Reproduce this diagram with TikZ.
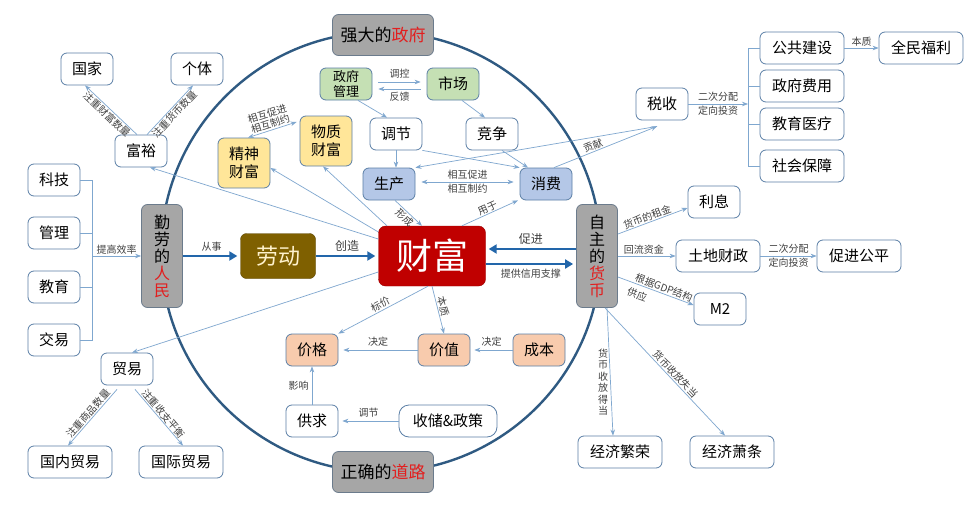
\documentclass[tikz,border=0pt]{standalone}
\usepackage{fontspec}
\setmainfont{Noto Sans CJK SC}
\usetikzlibrary{arrows.meta}
\definecolor{bdr}{HTML}{5B7FA6}
\definecolor{lnc}{HTML}{7FA7CF}
\definecolor{ringc}{HTML}{2F5A82}
\definecolor{thk}{HTML}{2266AA}
\definecolor{hubf}{HTML}{A6A6A6}
\definecolor{hubd}{HTML}{6B7B8C}
\definecolor{grnf}{HTML}{C5E0B4}
\definecolor{ylwf}{HTML}{FFE699}
\definecolor{bluf}{HTML}{B4C7E7}
\definecolor{orgf}{HTML}{F8CBAD}
\definecolor{brnf}{HTML}{7F6000}
\definecolor{brnt}{HTML}{FFF2CC}
\definecolor{redf}{HTML}{C00000}
\definecolor{redt}{HTML}{E21E1E}
\definecolor{labt}{HTML}{404040}
\tikzset{
  box/.style={draw=bdr, line width=0.8pt, rounded corners=6pt, fill=white, minimum width=52pt, minimum height=32pt, inner sep=2pt, align=center, font=\fontsize{15}{17}\selectfont},
  wbox/.style={box, minimum width=84pt},
  two/.style={inner sep=1pt, font=\fontsize{13}{14.5}\selectfont},
  grn/.style={box, fill=grnf},
  ylw/.style={box, fill=ylwf, minimum height=50pt, font=\fontsize{15}{18}\selectfont},
  blu/.style={box, fill=bluf},
  org/.style={box, fill=orgf},
  hub/.style={draw=hubd, line width=0.8pt, rounded corners=6pt, fill=hubf, align=center, inner sep=2pt},
  vhub/.style={hub, minimum width=41pt, minimum height=103pt, font=\fontsize{16}{17}\selectfont},
  hhub/.style={hub, minimum width=101pt, minimum height=41pt, font=\fontsize{17}{19}\selectfont},
  ring/.style={draw=ringc, line width=2.4pt},
  ln/.style={draw=lnc, line width=0.7pt, ->},
  bare/.style={draw=lnc, line width=0.7pt},
  sgap/.style={shorten <=6pt, shorten >=6pt},
  fat/.style={draw=thk, line width=2.6pt, -{Triangle[length=8pt,width=9pt]}, shorten >=3pt},
  lab/.style={font=\fontsize{10}{11}\selectfont, text=labt, inner sep=1pt},
  flab/.style={font=\fontsize{12}{14}\selectfont, text=labt, inner sep=3pt},
  vlab/.style={lab, align=center, font=\fontsize{10}{11.5}\selectfont}
}
\begin{document}
\begin{tikzpicture}[x=1pt, y=-1pt, >={Stealth[length=6pt,width=4.5pt]}]
\fill[white] (0,0) rectangle (980,514);
\useasboundingbox (0,0) rectangle (980,514);
\draw[ring] (381,252) circle[radius=220];

\node[box] (guojia) at (87,69) {国家};
\node[box] (geti) at (197,69) {个体};
\node[box] (fuyu) at (141,151) {富裕};
\node[box] (keji) at (54,180) {科技};
\node[box] (guanli) at (54,233) {管理};
\node[box] (jiaoyu) at (54,287) {教育};
\node[box] (jiaoyi) at (54,340) {交易};
\node[vhub] (renmin) at (162,256) {勤\\劳\\的\\\textcolor{redt}{人}\\\textcolor{redt}{民}};
\node[draw=brnf!70!black, fill=brnf, text=brnt, rounded corners=6pt, minimum width=75pt, minimum height=45pt, font=\fontsize{22}{24}\selectfont] (laodong) at (278,256) {劳动};
\node[draw=redf!80!black, fill=redf, text=white, rounded corners=7pt, minimum width=107pt, minimum height=60pt, font=\fontsize{36}{38}\selectfont] (caifu) at (432,256) {财富};
\node[vhub] (huobi) at (597,256) {自\\主\\的\\\textcolor{redt}{货}\\\textcolor{redt}{币}};
\node[hhub] (zhengfu) at (383,35) {强大的\textcolor{redt}{政府}};
\node[hhub] (daolu) at (383,472) {正确的\textcolor{redt}{道路}};

\node[grn, two] (zfgl) at (346,84) {政府\\管理};
\node[grn] (shichang) at (453,84) {市场};
\node[box] (tiaojie) at (396,134) {调节};
\node[box] (jingzheng) at (492,134) {竞争};
\node[ylw] (jingshen) at (244,163) {精神\\财富};
\node[ylw] (wuzhi) at (326,141) {物质\\财富};
\node[blu] (shengchan) at (389,184) {生产};
\node[blu] (xiaofei) at (546,184) {消费};

\node[box] (shuishou) at (662,104) {税收};
\node[wbox] (ggjs) at (802,48) {公共建设};
\node[wbox] (zffy) at (802,86) {政府费用};
\node[wbox] (jyyl) at (802,124) {教育医疗};
\node[wbox] (shbz) at (802,166) {社会保障};
\node[wbox] (qmfl) at (921,48) {全民福利};
\node[box] (lixi) at (714,202) {利息};
\node[wbox] (tdcz) at (718,256) {土地财政};
\node[wbox] (cjgp) at (859,256) {促进公平};
\node[box] (mtwo) at (720,309) {M2};
\node[wbox] (fanrong) at (620,452) {经济繁荣};
\node[wbox] (xiaotiao) at (732,452) {经济萧条};

\node[box] (maoyi) at (127,369) {贸易};
\node[wbox] (gnmy) at (70,462) {国内贸易};
\node[wbox] (gjmy) at (181,462) {国际贸易};
\node[org] (jiage) at (312,350) {价格};
\node[org] (jiazhi) at (444,350) {价值};
\node[org] (chengben) at (539,350) {成本};
\node[box] (gongqiu) at (312,421) {供求};
\node[box, minimum width=98pt, rounded corners=10pt] (shouchu) at (448,421) {收储\&政策};

\coordinate (lbr) at (92,256);
\foreach \n in {keji,guanli,jiaoyu,jiaoyi} \draw[bare] (\n.east) -| (lbr);
\draw[ln] (lbr) -- (renmin.west) node[lab, midway, above] {提高效率};
\draw[fat] (renmin.east) -- (laodong.west) node[lab, midway, above=2pt] {从事};
\draw[fat] (laodong.east) -- (caifu.west) node[flab, midway, above] {创造};
\draw[fat] ([yshift=7pt]huobi.west) -- ([yshift=7pt]caifu.east) node[flab, midway, above] {促进};
\draw[fat] ([yshift=-8pt]caifu.east) -- ([yshift=-8pt]huobi.west) node[lab, midway, below=3pt] {提供信用支撑};

\draw[ln, <-] ([xshift=-2pt]guojia.south) -- ([xshift=-4pt]fuyu.north) node[lab, midway, sloped, below] {注重财富数量};
\draw[ln] ([xshift=6pt]fuyu.north) -- ([xshift=-4pt]geti.south) node[lab, midway, sloped, below] {注重货币数量};
\draw[ln] ([yshift=17pt]caifu.west) -- ([xshift=9pt]fuyu.south);
\draw[ln] ([yshift=24pt]caifu.west) -- ([yshift=-5pt]jingshen.east);
\draw[ln] ([xshift=-45pt]caifu.north) -- ([xshift=-3pt]wuzhi.south);
\draw[ln] ([yshift=-16pt]caifu.west) -- ([xshift=5pt]maoyi.north);
\draw[ln, <->] ([xshift=4pt]jingshen.north) -- ([xshift=-3pt,yshift=19pt]wuzhi.west) node[lab, midway, sloped, above, align=center] {相互促进\\相互制约};

\draw[ln, sgap] ([yshift=2pt]zfgl.east) -- ([yshift=2pt]shichang.west) node[lab, midway, above=2pt] {调控};
\draw[ln, sgap] ([yshift=-5pt]shichang.west) -- ([yshift=-5pt]zfgl.east) node[lab, midway, below=2pt] {反馈};
\draw[ln] ([xshift=12pt]zfgl.south) -- ([xshift=-9pt]tiaojie.north);
\draw[ln] ([xshift=9pt]shichang.south) -- ([xshift=-7pt]jingzheng.north);
\draw[ln] (tiaojie.south) -- (tiaojie.south |- shengchan.north);
\draw[ln] (tiaojie.south east) -- (xiaofei.north west);
\draw[ln] ([xshift=10pt]jingzheng.south) -- ([xshift=-18pt]xiaofei.north);
\draw[ln, <->, sgap] ([yshift=2pt]shengchan.east) -- ([yshift=2pt]xiaofei.west) node[lab, midway, above=1pt] {相互促进} node[lab, midway, below=1pt] {相互制约};
\draw[ln] ([xshift=6pt]shengchan.south) -- ([xshift=-10pt]caifu.north) node[lab, midway, sloped, below] {形成};
\draw[ln] ([xshift=30pt]caifu.north) -- ([xshift=-28pt]xiaofei.south) node[lab, midway, sloped, above] {用于};
\coordinate (ssin) at ([xshift=-5pt,yshift=-6pt]shuishou.south);
\draw[ln] (ssin) -- (shengchan.north east);
\draw[ln] ([xshift=8pt]xiaofei.north) -- (ssin) node[lab, pos=0.4, sloped, above] {贡献};

\coordinate (rbr) at (748,104);
\foreach \n in {ggjs,zffy,jyyl,shbz} \draw[bare] (\n.west) -| (rbr);
\draw[ln] (shuishou.east) -- (rbr) node[lab, midway, above=1pt] {二次分配} node[lab, midway, below=1pt] {定向投资};
\draw[ln] (ggjs.east) -- (qmfl.west) node[lab, midway, above] {本质};
\draw[ln] ([yshift=22pt]huobi.east) -- ([yshift=-6pt]lixi.west) node[lab, pos=0.45, sloped, above] {货币的租金};
\draw[ln] (huobi.east) -- (tdcz.west) node[lab, pos=0.45, above] {回流资金};
\draw[ln] (tdcz.east) -- (cjgp.west) node[lab, midway, above=1pt] {二次分配} node[lab, midway, below=1pt] {定向投资};
\draw[ln] ([yshift=-21pt]huobi.east) -- ([yshift=4pt]mtwo.west) node[lab, pos=0.58, sloped, above] {根据GDP结构} node[lab, pos=0.3, sloped, below=4pt] {供应};
\draw[ln] ([xshift=10pt]huobi.south) -- ([xshift=-7pt]fanrong.north) node[vlab, pos=0.58, left=1pt] {货\\币\\收\\放\\得\\当};
\draw[ln] ([xshift=8pt]huobi.south) -- ([xshift=-7pt]xiaotiao.north) node[lab, pos=0.55, sloped, above] {货币收放失当};

\draw[ln, <-] ([xshift=-2pt]gnmy.north) -- ([xshift=-10pt,yshift=-4pt]maoyi.south) node[lab, midway, sloped, above] {注重商品数量};
\draw[ln] ([xshift=8pt,yshift=-4pt]maoyi.south) -- ([xshift=2pt]gjmy.north) node[lab, midway, sloped, above] {注重收支平衡};
\draw[ln, <-] (jiage.north east) -- ([xshift=-4pt]caifu.south) node[lab, midway, sloped, above] {标价};
\draw[ln] (caifu.south) -- (jiazhi.north) node[lab, pos=0.45, sloped, above] {本质};
\draw[ln, shorten >=5pt] (jiazhi.west) -- (jiage.east) node[lab, midway, above=2pt] {决定};
\draw[ln, shorten >=4pt] (chengben.west) -- (jiazhi.east) node[lab, midway, above=2pt] {决定};
\draw[ln] (gongqiu.north) -- (jiage.south) node[lab, midway, left=2pt] {影响};
\draw[ln, shorten >=4pt] (shouchu.west) -- (gongqiu.east) node[lab, midway, above=2pt] {调节};
\end{tikzpicture}
\end{document}
